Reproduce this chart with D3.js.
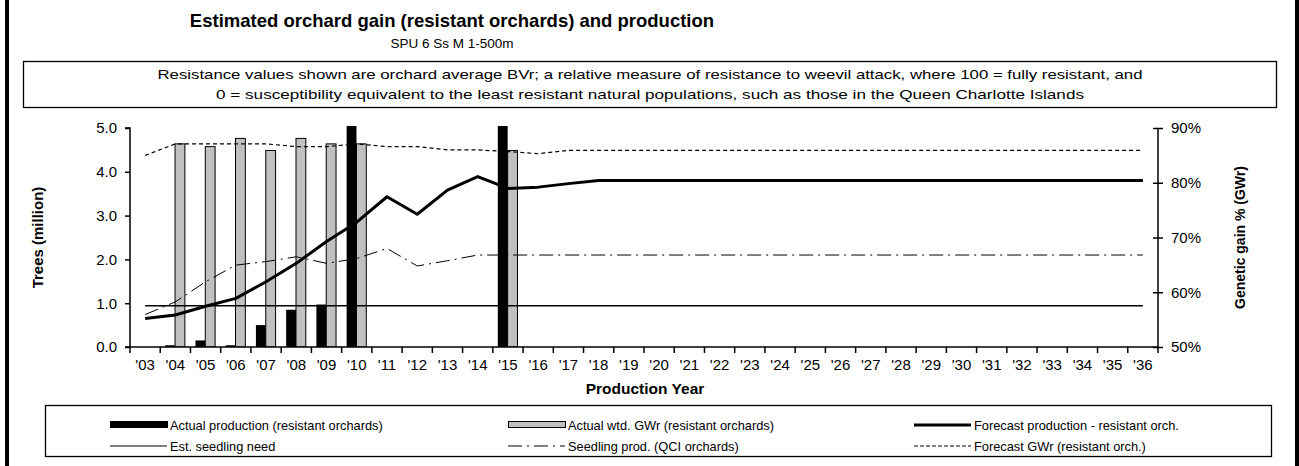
<!DOCTYPE html>
<html>
<head>
<meta charset="utf-8">
<script src="https://cdn.jsdelivr.net/npm/d3@7"></script>
<style>
  html, body { margin: 0; padding: 0; background: #fff; }
  svg { display: block; font-family: "Liberation Sans", Arial, sans-serif; }
</style>
</head>
<body>
<svg id="chart" width="1299" height="466"></svg>
<script>
// ---------- DATA ----------
const years = ["'03","'04","'05","'06","'07","'08","'09","'10","'11","'12","'13","'14","'15","'16","'17","'18","'19","'20","'21","'22","'23","'24","'25","'26","'27","'28","'29","'30","'31","'32","'33","'34","'35","'36"];
// Actual production (resistant orchards), million trees (left axis); values beyond 5.0 are cut off at the top
const actualProduction = [null, 0.04, 0.15, 0.04, 0.5, 0.85, 0.97, 6.0, null, null, null, null, 6.0, null, null, null, null, null, null, null, null, null, null, null, null, null, null, null, null, null, null, null, null, null];
// Actual weighted GWr (resistant orchards), % (right axis)
const actualGWr = [null, 87.1, 86.6, 88.1, 85.9, 88.1, 87.1, 87.1, null, null, null, null, 85.9, null, null, null, null, null, null, null, null, null, null, null, null, null, null, null, null, null, null, null, null, null];
// Forecast production - resistant orchards, million trees (left axis)
const forecastProduction = [0.65, 0.73, 0.93, 1.11, 1.49, 1.91, 2.41, 2.85, 3.43, 3.03, 3.58, 3.89, 3.62, 3.65, 3.73, 3.80, 3.80, 3.80, 3.80, 3.80, 3.80, 3.80, 3.80, 3.80, 3.80, 3.80, 3.80, 3.80, 3.80, 3.80, 3.80, 3.80, 3.80, 3.80];
// Est. seedling need, million trees (left axis)
const seedlingNeed = [0.94, 0.94, 0.94, 0.94, 0.94, 0.94, 0.94, 0.94, 0.94, 0.94, 0.94, 0.94, 0.94, 0.94, 0.94, 0.94, 0.94, 0.94, 0.94, 0.94, 0.94, 0.94, 0.94, 0.94, 0.94, 0.94, 0.94, 0.94, 0.94, 0.94, 0.94, 0.94, 0.94, 0.94];
// Seedling prod. (QCI orchards), million trees (left axis)
const qciProduction = [0.74, 1.03, 1.49, 1.87, 1.95, 2.06, 1.91, 2.02, 2.25, 1.85, 1.97, 2.10, 2.10, 2.10, 2.10, 2.10, 2.10, 2.10, 2.10, 2.10, 2.10, 2.10, 2.10, 2.10, 2.10, 2.10, 2.10, 2.10, 2.10, 2.10, 2.10, 2.10, 2.10, 2.10];
// Forecast GWr (resistant orchards), % (right axis)
const forecastGWr = [85.0, 87.1, 87.1, 87.1, 87.1, 86.6, 86.6, 87.1, 86.6, 86.6, 86.0, 86.0, 85.7, 85.3, 85.9, 85.9, 85.9, 85.9, 85.9, 85.9, 85.9, 85.9, 85.9, 85.9, 85.9, 85.9, 85.9, 85.9, 85.9, 85.9, 85.9, 85.9, 85.9, 85.9];
const leftTicks = [0, 1, 2, 3, 4, 5];
const rightTicks = [50, 60, 70, 80, 90];

// ---------- LAYOUT ----------
const svg = d3.select("#chart");
const L = 130, R = 1158, T = 128, B = 347;
const FONT = "'Liberation Sans', Arial, sans-serif";

const x = d3.scaleBand().domain(years).range([L, R]).padding(0);
const bw = x.bandwidth();
const inner = d3.scaleBand().domain(["prod", "gwr"]).range([bw * 0.165, bw * 0.815]).padding(0);
const yL = d3.scaleLinear().domain([0, 5]).range([B, T]);
const yR = d3.scaleLinear().domain([50, 90]).range([B, T]);

// outer frame side bars
svg.append("rect").attr("x", 5).attr("y", 0).attr("width", 4).attr("height", 466).attr("fill", "#000");
svg.append("rect").attr("x", 1295).attr("y", 0).attr("width", 4).attr("height", 466).attr("fill", "#000");

// Title
svg.append("text").attr("x", 452).attr("y", 27).attr("text-anchor", "middle")
  .attr("font-size", 18.5).attr("font-weight", "bold").text("Estimated orchard gain (resistant orchards) and production");
svg.append("text").attr("x", 452).attr("y", 48).attr("text-anchor", "middle")
  .attr("font-size", 13.5).text("SPU 6 Ss M 1-500m");

// Note box
svg.append("rect").attr("x", 23.5).attr("y", 61.5).attr("width", 1253).attr("height", 46)
  .attr("fill", "none").attr("stroke", "#000").attr("stroke-width", 1.3);
svg.append("text").attr("x", 650).attr("y", 79).attr("text-anchor", "middle").attr("font-size", 13.5)
  .attr("textLength", 985).attr("lengthAdjust", "spacingAndGlyphs")
  .text("Resistance values shown are orchard average BVr; a relative measure of resistance to weevil attack, where 100 = fully resistant, and");
svg.append("text").attr("x", 650).attr("y", 99).attr("text-anchor", "middle").attr("font-size", 13.5)
  .attr("textLength", 868).attr("lengthAdjust", "spacingAndGlyphs")
  .text("0 = susceptibility equivalent to the least resistant natural populations, such as those in the Queen Charlotte  Islands");

// clip for plot
svg.append("clipPath").attr("id", "plotclip").append("rect")
  .attr("x", L).attr("y", T - 2).attr("width", R - L).attr("height", B - T + 2);

const plot = svg.append("g").attr("clip-path", "url(#plotclip)");

// gray bars
plot.selectAll("rect.gwr").data(years.map((y, i) => ({ y, v: actualGWr[i] })).filter(d => d.v != null))
  .join("rect").attr("class", "gwr")
  .attr("x", d => x(d.y) + inner("gwr"))
  .attr("width", inner.bandwidth())
  .attr("y", d => yR(d.v))
  .attr("height", d => yR(50) - yR(d.v))
  .attr("fill", "#c0c0c0").attr("stroke", "#000").attr("stroke-width", 1);

// black bars
plot.selectAll("rect.prod").data(years.map((y, i) => ({ y, v: actualProduction[i] })).filter(d => d.v != null))
  .join("rect").attr("class", "prod")
  .attr("x", d => x(d.y) + inner("prod"))
  .attr("width", inner.bandwidth())
  .attr("y", d => yL(d.v))
  .attr("height", d => yL(0) - yL(d.v))
  .attr("fill", "#000");

const cx = y => x(y) + bw / 2;
function drawLine(values, scale, attrs) {
  const line = d3.line().defined(d => d.v != null).x(d => cx(d.y)).y(d => scale(d.v));
  const p = plot.append("path").datum(years.map((y, i) => ({ y, v: values[i] })))
    .attr("d", line).attr("fill", "none").attr("stroke", "#000");
  Object.entries(attrs).forEach(([k, v]) => p.attr(k, v));
}
drawLine(seedlingNeed, yL, { "stroke-width": 1.5 });
drawLine(qciProduction, yL, { "stroke-width": 1, "stroke-dasharray": "14,5,2,5" });
drawLine(forecastGWr, yR, { "stroke-width": 1.2, "stroke-dasharray": "4,3" });
drawLine(forecastProduction, yL, { "stroke-width": 3, "stroke-linejoin": "round" });

// Axes
const axL = svg.append("g").attr("transform", `translate(${L},0)`)
  .call(d3.axisLeft(yL).tickValues(leftTicks).tickFormat(d3.format(".1f")).tickSize(5).tickPadding(8));
const axR = svg.append("g").attr("transform", `translate(${R},0)`)
  .call(d3.axisRight(yR).tickValues(rightTicks).tickFormat(d => d + "%").tickSize(5).tickPadding(8));
axR.selectAll(".tick line").attr("x1", -5);
const axB = svg.append("g").attr("transform", `translate(0,${B})`)
  .call(d3.axisBottom(x).tickSize(0).tickPadding(12));
// x ticks at category boundaries
axB.selectAll("line.bnd").data(years.concat(["end"]))
  .join("line").attr("class", "bnd")
  .attr("x1", (d, i) => i < years.length ? x(d) : R)
  .attr("x2", (d, i) => i < years.length ? x(d) : R)
  .attr("y1", 0).attr("y2", 6).attr("stroke", "#000").attr("stroke-width", 1.5);

[axL, axR, axB].forEach(a => {
  a.selectAll(".domain").attr("stroke", "#000").attr("stroke-width", 1.5);
  a.selectAll(".tick line").attr("stroke", "#000").attr("stroke-width", 1.5);
  a.selectAll("text").attr("font-size", 15).attr("fill", "#000").attr("font-family", FONT);
});
axL.select(".domain").attr("d", `M-5,${T}H0V${B}H-5`);
axR.select(".domain").attr("d", `M0,${T}V${B}`);
axB.select(".domain").attr("d", `M${L},0H${R}`);

// Axis titles
svg.append("text").attr("transform", `translate(43,${(T + B) / 2}) rotate(-90)`)
  .attr("text-anchor", "middle").attr("font-size", 15).attr("font-weight", "bold").text("Trees (million)");
svg.append("text").attr("transform", `translate(1245,${(T + B) / 2}) rotate(-90)`)
  .attr("text-anchor", "middle").attr("font-size", 14).attr("font-weight", "bold").text("Genetic gain % (GWr)");
svg.append("text").attr("x", 645).attr("y", 394).attr("text-anchor", "middle")
  .attr("font-size", 15.5).attr("font-weight", "bold").text("Production Year");

// Legend
svg.append("rect").attr("x", 45.5).attr("y", 405.5).attr("width", 1226).attr("height", 51)
  .attr("fill", "none").attr("stroke", "#000").attr("stroke-width", 1.3);
const lg = svg.append("g").attr("font-size", 12.8);
const items = [
  { col: 0, row: 0, type: "bar", fill: "#000", label: "Actual production (resistant orchards)" },
  { col: 1, row: 0, type: "bar", fill: "#c0c0c0", label: "Actual wtd. GWr (resistant orchards)" },
  { col: 2, row: 0, type: "line", w: 3, dash: null, label: "Forecast production - resistant orch." },
  { col: 0, row: 1, type: "line", w: 1.2, dash: null, label: "Est. seedling need" },
  { col: 1, row: 1, type: "line", w: 1.2, dash: "14,5,2,5", label: "Seedling prod. (QCI orchards)" },
  { col: 2, row: 1, type: "line", w: 1.2, dash: "4,2", label: "Forecast GWr (resistant orch.)" }
];
const colX = [110, 508, 914];
const rowY = [425, 446];
items.forEach(it => {
  const x0 = colX[it.col], yy = rowY[it.row];
  if (it.type === "bar") {
    lg.append("rect").attr("x", x0 + 0.5).attr("y", yy - 3.5).attr("width", 57).attr("height", 6)
      .attr("fill", it.fill).attr("stroke", "#000").attr("stroke-width", 1);
  } else {
    const l = lg.append("line").attr("x1", x0).attr("x2", x0 + 57).attr("y1", yy).attr("y2", yy)
      .attr("stroke", "#000").attr("stroke-width", it.w);
    if (it.dash) l.attr("stroke-dasharray", it.dash);
  }
  lg.append("text").attr("x", x0 + 60).attr("y", yy + 4.5).text(it.label);
});
</script>
</body>
</html>
